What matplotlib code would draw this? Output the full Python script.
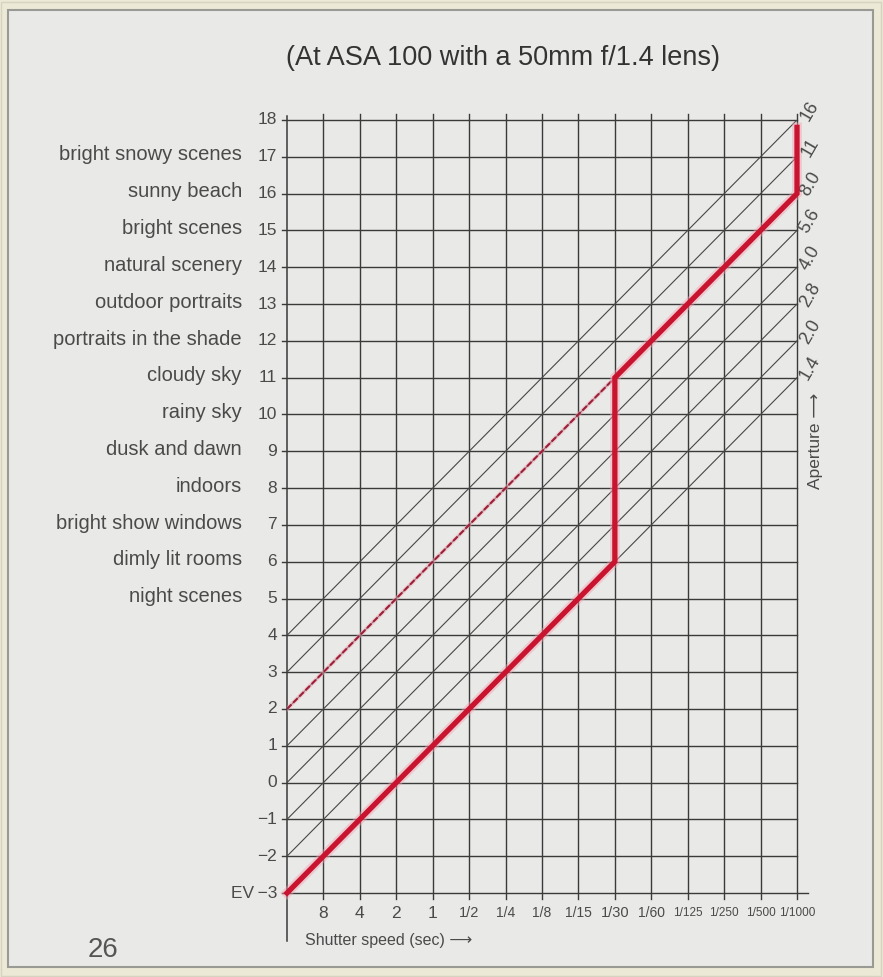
import matplotlib
matplotlib.use("Agg")
import matplotlib.pyplot as plt
from matplotlib.patches import Rectangle

# ---------------- data ----------------
shutter_labels = ['8', '4', '2', '1', '1/2', '1/4', '1/8', '1/15', '1/30',
                  '1/60', '1/125', '1/250', '1/500', '1/1000']
shutter_pos = list(range(1, 15))
shutter_sizes = [12.5, 12.5, 12.5, 12.5, 10.5, 10, 10, 10, 10.5, 10, 8.5, 8.5, 8.5, 8.5]

ev_values = list(range(-3, 19))

scene_labels = ['bright snowy scenes', 'sunny beach', 'bright scenes',
                'natural scenery', 'outdoor portraits', 'portraits in the shade',
                'cloudy sky', 'rainy sky', 'dusk and dawn', 'indoors',
                'bright show windows', 'dimly lit rooms', 'night scenes']
scene_ev = [17, 16, 15, 14, 13, 12, 11, 10, 9, 8, 7, 6, 5]

aperture_labels = ['16', '11', '8.0', '5.6', '4.0', '2.8', '2.0', '1.4']
aperture_ev_at_left = [4, 3, 2, 1, 0, -1, -2, -3]   # EV where the line meets the left axis

program_x = [0, 9, 9, 14, 14]
program_ev = [-3, 6, 11, 16, 17.8]
dashed_x = [0, 9]
dashed_ev = [2, 11]

n_cols = 14
ev_min, ev_max = -3, 18

# ---------------- figure ----------------
W, H = 883, 977
fig = plt.figure(figsize=(W / 100, H / 100), dpi=100)
fig.patch.set_facecolor('#ece9d6')
paper = '#e9e9e7'
fig.patches.append(Rectangle((1 / W, 1 / H), 1 - 3 / W, 1 - 3 / H, transform=fig.transFigure,
                             facecolor='none', edgecolor='#d6d3c0', lw=1.0, zorder=-10))
fig.patches.append(Rectangle((8 / W, 1 - 967 / H), (873 - 8) / W, (967 - 10) / H,
                             transform=fig.transFigure, facecolor=paper,
                             edgecolor='#9a9a94', lw=1.5, zorder=-9))

FONT = ['Liberation Sans', 'DejaVu Sans']
ink = '#3a3a3a'
txt = '#4a4a4a'

ax = fig.add_axes([287 / W, 1 - 893 / H, (797 - 287) / W, (893 - 120) / H])
ax.set_zorder(5)
ax.patch.set_visible(False)
ax.set_xlim(0, n_cols)
ax.set_ylim(ev_min, ev_max)
ax.axis('off')

# horizontal grid lines
for ev in ev_values:
    x_end = n_cols + 0.3 if ev == ev_min else n_cols
    ax.plot([-0.15, x_end], [ev, ev], color=ink, lw=1.0, clip_on=False, zorder=2)
# vertical grid lines
for xp in shutter_pos:
    ax.plot([xp, xp], [ev_min - 0.15, ev_max + 0.15], color=ink, lw=1.0,
            clip_on=False, zorder=2)
# left axis
ax.plot([0, 0], [ev_min - 1.3, ev_max + 0.1], color=ink, lw=1.1, clip_on=False, zorder=2)

# aperture diagonals
for ev0 in aperture_ev_at_left:
    ax.plot([0, n_cols], [ev0, ev0 + n_cols], color='#474747', lw=0.8, zorder=2)

# program line (red)
ax.plot(dashed_x, dashed_ev, color='#f2a8b6', lw=3.0, alpha=0.5, zorder=3)
ax.plot(dashed_x, dashed_ev, color='#9c2038', lw=1.5, dashes=(3, 1.2), zorder=3)
ax.plot(program_x, program_ev, color='#f4a0b0', lw=7, alpha=0.45, zorder=3,
        solid_joinstyle='miter', clip_on=False)
ax.plot(program_x, program_ev, color='#c8142f', lw=3.8, zorder=4,
        solid_joinstyle='miter', clip_on=False)

# EV tick labels
for ev in ev_values:
    if ev == ev_min:
        lab = 'EV\u2009\u22123'
    else:
        lab = str(ev) if ev >= 0 else '\u2212' + str(-ev)
    ax.text(-0.27, ev, lab, ha='right', va='center', fontsize=12.5,
            family=FONT, color=txt, clip_on=False)

# scene labels
for lab, ev in zip(scene_labels, scene_ev):
    ax.text(-1.24, ev + 0.05, lab, ha='right', va='center', fontsize=14.5,
            family=FONT, color=txt, clip_on=False)

# shutter speed labels
for lab, xp, fs in zip(shutter_labels, shutter_pos, shutter_sizes):
    ax.text(xp, ev_min - 0.55, lab, ha='center', va='center', fontsize=fs,
            family=FONT, color=txt, clip_on=False)

ax.text(0.5, ev_min - 1.28, 'Shutter speed (sec) \u27f6', ha='left', va='center',
        fontsize=11.5, family=FONT, color=txt, clip_on=False)

# aperture labels
for lab, ev0 in zip(aperture_labels, aperture_ev_at_left):
    ax.text(n_cols + 0.36, ev0 + n_cols + 0.25, lab, ha='center', va='center',
            rotation=60, fontsize=13, family=FONT, color=txt, clip_on=False)

ax.text(n_cols + 0.5, 9.28, 'Aperture \u27f6', ha='center', va='center', rotation=90,
        fontsize=12.5, family=FONT, color=txt, clip_on=False)

# title
fig.text(503 / W, 1 - 58 / H, '(At ASA 100 with a 50mm f/1.4 lens)', ha='center',
         va='center', fontsize=19.5, family=FONT, color='#333333')

# page number
fig.text(103 / W, 1 - 950 / H, '26', ha='center', va='center', fontsize=20,
         family=FONT, color='#555555')

fig.savefig('out.png', dpi=100, facecolor=fig.get_facecolor())
